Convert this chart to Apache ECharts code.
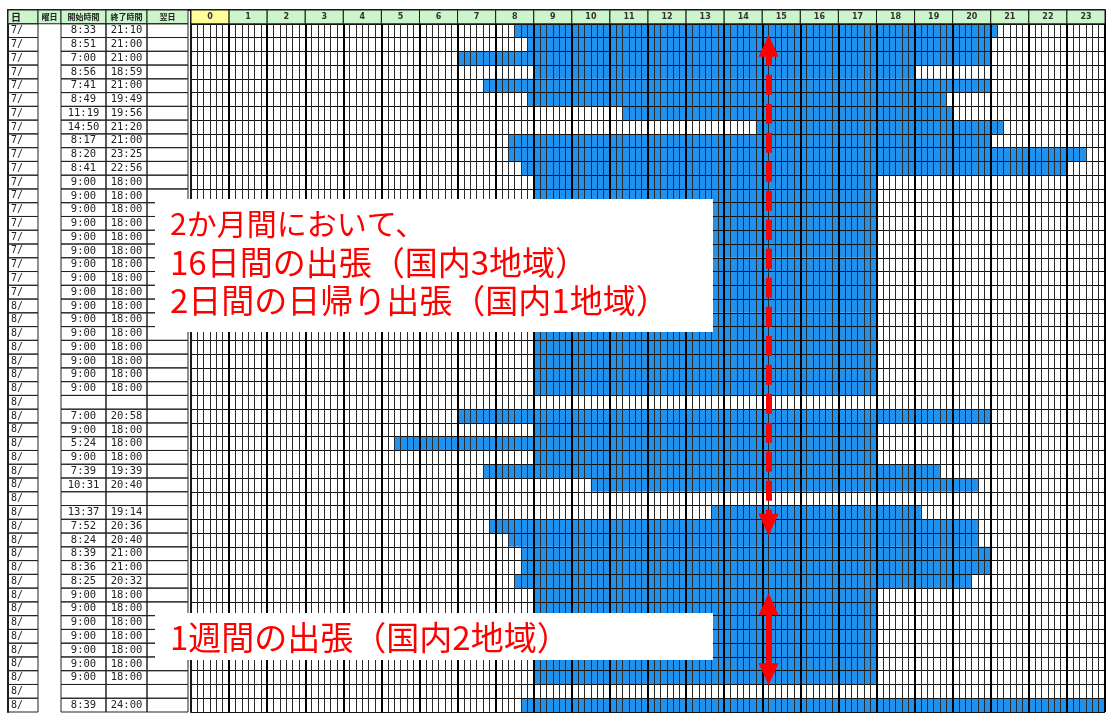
<!DOCTYPE html>
<html lang="ja">
<head>
<meta charset="UTF-8">
<title>勤務時間表</title>
<script src="https://cdn.jsdelivr.net/npm/echarts@6/dist/echarts.min.js"></script>
<style>
  html, body { margin: 0; background: #ffffff; }
  #main { width: 1107px; height: 713px; }
</style>
</head>
<body>
<div id="main"></div>
<script>
// 日付・開始時間・終了時間（空欄は休日）
const days = [
  '7/', '7/', '7/', '7/', '7/', '7/', '7/', '7/', '7/', '7/',
  '7/', '7/', '7/', '7/', '7/', '7/', '7/', '7/', '7/', '7/',
  '8/', '8/', '8/', '8/', '8/', '8/', '8/', '8/', '8/', '8/',
  '8/', '8/', '8/', '8/', '8/', '8/', '8/', '8/', '8/', '8/',
  '8/', '8/', '8/', '8/', '8/', '8/', '8/', '8/', '8/', '8/'
];
const startTimes = [
  '8:33', '8:51', '7:00', '8:56', '7:41', '8:49', '11:19', '14:50', '8:17', '8:20',
  '8:41', '9:00', '9:00', '9:00', '9:00', '9:00', '9:00', '9:00', '9:00', '9:00',
  '9:00', '9:00', '9:00', '9:00', '9:00', '9:00', '9:00', '', '7:00', '9:00',
  '5:24', '9:00', '7:39', '10:31', '', '13:37', '7:52', '8:24', '8:39', '8:36',
  '8:25', '9:00', '9:00', '9:00', '9:00', '9:00', '9:00', '9:00', '', '8:39'
];
const endTimes = [
  '21:10', '21:00', '21:00', '18:59', '21:00', '19:49', '19:56', '21:20', '21:00', '23:25',
  '22:56', '18:00', '18:00', '18:00', '18:00', '18:00', '18:00', '18:00', '18:00', '18:00',
  '18:00', '18:00', '18:00', '18:00', '18:00', '18:00', '18:00', '', '20:58', '18:00',
  '18:00', '18:00', '19:39', '20:40', '', '19:14', '20:36', '20:40', '21:00', '21:00',
  '20:32', '18:00', '18:00', '18:00', '18:00', '18:00', '18:00', '18:00', '', '24:00'
];
const headerCols = ['日', '曜日', '開始時間', '終了時間', '翌日'];
const hourLabels = ['0', '1', '2', '3', '4', '5', '6', '7', '8', '9', '10', '11',
  '12', '13', '14', '15', '16', '17', '18', '19', '20', '21', '22', '23'];

const note1 = ['2か月間において、', '16日間の出張（国内3地域）', '2日間の日帰り出張（国内1地域）'];
const note2 = ['1週間の出張（国内2地域）'];
// 矢印: [分, 行位置]
const dashedArrow = [[910, 2.6], [910, 37.4]];
const solidArrow = [[910, 43.15], [910, 48.25]];

const BLUE = '#2191ee';
const RED = '#ff0000';
const LINE = '#1a1a1a';

const rowIds = ['h'].concat(days.map((d, i) => String(i + 1)));

function toMin(t) {
  const p = t.split(':');
  return +p[0] * 60 + +p[1];
}
// 10分単位のセルに丸める
function cell(t) { return Math.round(toMin(t) / 10) * 10; }

const barData = [];
days.forEach((d, i) => {
  if (startTimes[i]) barData.push([cell(startTimes[i]), cell(endTimes[i]), i + 1]);
});
const headData = hourLabels.map((h, i) => [i * 60, 0]);
const tableData = rowIds.map((r, i) => [0, i]);

// 左表の列境界（表グリッド内の座標）
const colEdges = [0, 30, 53, 98, 139, 180];

function renderBar(params, api) {
  const a = api.coord([api.value(0), api.value(2)]);
  const b = api.coord([api.value(1), api.value(2)]);
  const h = api.size([0, 1])[1];
  return {
    type: 'rect',
    shape: { x: a[0], y: a[1] - h / 2, width: b[0] - a[0], height: h },
    style: { fill: BLUE }
  };
}

function renderHead(params, api) {
  const x = api.value(0);
  const a = api.coord([x, 0]);
  const b = api.coord([x + 60, 0]);
  const h = api.size([0, 1])[1];
  return {
    type: 'group',
    children: [
      {
        type: 'rect',
        shape: { x: a[0], y: a[1] - h / 2, width: b[0] - a[0], height: h },
        style: { fill: params.dataIndex === 0 ? '#ffff99' : '#ccf5cc', stroke: LINE, lineWidth: 1 }
      },
      {
        type: 'text', x: (a[0] + b[0]) / 2, y: a[1],
        style: {
          text: hourLabels[params.dataIndex], align: 'center', verticalAlign: 'middle',
          font: 'bold 8px "DejaVu Sans"', fill: '#333'
        }
      }
    ]
  };
}

function renderTable(params, api) {
  const idx = api.value(1);
  const c = api.coord([0, idx]);
  const h = api.size([0, 1])[1];
  const top = c[1] - h / 2;
  const xs = colEdges.map(e => api.coord([e, idx])[0]);
  const children = [];
  const box = (k, fill) => ({
    type: 'rect',
    shape: { x: xs[k], y: top, width: xs[k + 1] - xs[k], height: h },
    style: { fill: fill || 'none', stroke: '#222', lineWidth: 1 }
  });
  const txt = (x, t, align, font) => ({
    type: 'text', x: x, y: c[1],
    style: { text: t, align: align, verticalAlign: 'middle', font: font, fill: '#222' }
  });
  if (idx === 0) {
    headerCols.forEach((t, k) => {
      children.push(box(k, '#ccf5cc'));
      children.push(k === 0
        ? txt(xs[0] + 3, t, 'left', 'bold 10px "Noto Sans CJK JP"')
        : txt((xs[k] + xs[k + 1]) / 2, t, 'center', 'bold 8px "Noto Sans CJK JP"'));
    });
  } else {
    const i = idx - 1;
    children.push(box(0));
    children.push(txt(xs[0] + 3, days[i], 'left', '10px "DejaVu Sans Mono"'));
    children.push(box(2), box(3), box(4));
    children.push(txt((xs[2] + xs[3]) / 2, startTimes[i], 'center', '10.5px "DejaVu Sans Mono"'));
    children.push(txt((xs[3] + xs[4]) / 2, endTimes[i], 'center', '10.5px "DejaVu Sans Mono"'));
  }
  return { type: 'group', children: children };
}

const chart = echarts.init(document.getElementById('main'));

const noteFont = '"Noto Sans CJK JP"';

const option = {
  animation: false,
  backgroundColor: '#ffffff',
  grid: [
    { left: 191, top: 10, width: 914, height: 702, outerBoundsMode: 'none' },
    { left: 8, top: 10, width: 183, height: 702, outerBoundsMode: 'none' }
  ],
  xAxis: [
    {
      gridIndex: 0, type: 'value', min: 0, max: 1440, interval: 60, position: 'top', z: 3,
      axisLine: { show: true, lineStyle: { color: LINE, width: 2 } },
      axisTick: { show: false },
      axisLabel: { show: false },
      splitLine: { show: true, lineStyle: { color: '#000', width: 2 } },
      minorTick: { show: false, splitNumber: 6 },
      minorSplitLine: { show: true, lineStyle: { color: '#2a2a2a', width: 1 } }
    },
    {
      gridIndex: 1, type: 'value', min: 0, max: 183, position: 'top',
      axisLine: { show: true, lineStyle: { color: LINE, width: 2 } },
      axisTick: { show: false },
      axisLabel: { show: false },
      splitLine: { show: false }
    }
  ],
  yAxis: [
    {
      gridIndex: 0, type: 'category', data: rowIds, inverse: true, z: 3,
      axisLine: { show: true, lineStyle: { color: LINE, width: 2 } },
      axisTick: { show: false },
      axisLabel: { show: false },
      splitLine: { show: true, interval: 0, lineStyle: { color: '#111', width: 1 } }
    },
    {
      gridIndex: 1, type: 'category', data: rowIds, inverse: true,
      axisLine: { show: true, lineStyle: { color: LINE, width: 2 } },
      axisTick: { show: false },
      axisLabel: { show: false },
      splitLine: { show: false }
    },
    { gridIndex: 0, type: 'value', min: 0, max: 51, inverse: true, show: false }
  ],
  series: [
    {
      type: 'custom', name: '勤務', xAxisIndex: 0, yAxisIndex: 0, z: 2,
      renderItem: renderBar, encode: { x: [0, 1], y: 2 }, data: barData
    },
    {
      type: 'custom', name: '時刻', xAxisIndex: 0, yAxisIndex: 0, z: 4,
      renderItem: renderHead, encode: { x: 0, y: 1 }, data: headData
    },
    {
      type: 'custom', name: '表', xAxisIndex: 1, yAxisIndex: 1, z: 4,
      renderItem: renderTable, encode: { x: 0, y: 1 }, data: tableData
    },
    {
      type: 'line', xAxisIndex: 0, yAxisIndex: 2, z: 6, data: [],
      markLine: {
        silent: true, symbol: ['triangle', 'triangle'], symbolSize: [20, 22],
        label: { show: false },
        lineStyle: { color: RED, width: 6, type: [20, 9], cap: 'butt' },
        data: [[{ coord: dashedArrow[0] }, { coord: dashedArrow[1] }]]
      }
    },
    {
      type: 'line', xAxisIndex: 0, yAxisIndex: 2, z: 6, data: [],
      markLine: {
        silent: true, symbol: ['triangle', 'triangle'], symbolSize: [20, 22],
        label: { show: false },
        lineStyle: { color: RED, width: 6, type: 'solid' },
        data: [[{ coord: solidArrow[0] }, { coord: solidArrow[1] }]]
      }
    }
  ],
  graphic: [
    {
      type: 'rect', z: 100,
      shape: { x: 155, y: 199, width: 558, height: 133 },
      style: { fill: '#ffffff' }
    },
    {
      type: 'text', z: 101, x: 170, y: 204.5,
      style: {
        text: '{a|' + note1[0] + '}\n{b|' + note1[1] + '}\n{b|' + note1[2] + '}',
        verticalAlign: 'top',
        rich: {
          a: { fill: RED, font: '30px ' + noteFont, lineHeight: 38.5 },
          b: { fill: RED, font: '33px ' + noteFont, lineHeight: 38.5 }
        }
      }
    },
    {
      type: 'rect', z: 100,
      shape: { x: 155, y: 613, width: 558, height: 47 },
      style: { fill: '#ffffff' }
    },
    {
      type: 'text', z: 101, x: 170, y: 637,
      style: {
        text: note2.join('\n'), fill: RED, font: '33px ' + noteFont,
        verticalAlign: 'middle'
      }
    }
  ]
};

chart.setOption(option);
</script>
</body>
</html>
